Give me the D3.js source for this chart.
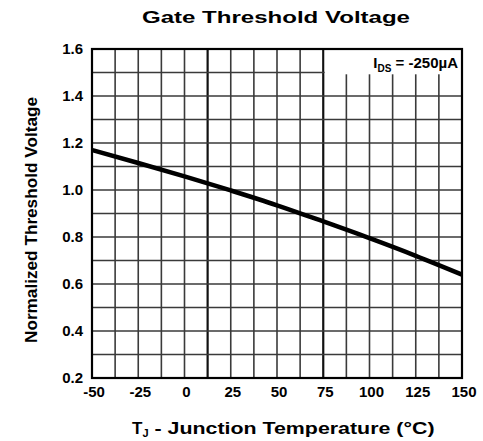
<!DOCTYPE html>
<html>
<head>
<meta charset="utf-8">
<script src="https://cdn.jsdelivr.net/npm/d3@7"></script>
<style>
  html, body { margin: 0; padding: 0; background: #fff; }
  svg { display: block; font-family: "Liberation Sans", Arial, sans-serif; }
</style>
</head>
<body>
<svg id="chart" width="483" height="441"></svg>
<script>
/* Gate Threshold Voltage vs junction temperature (datasheet style grid) */
var TEMPS = [-50, -25, 0, 25, 50, 75, 100, 125, 150];
var VTH = [1.17, 1.115, 1.058, 0.998, 0.935, 0.866, 0.795, 0.72, 0.64];
var X_TICKS = [-50, -25, 0, 25, 50, 75, 100, 125, 150];
var Y_TICKS = [0.2, 0.4, 0.6, 0.8, 1.0, 1.2, 1.4, 1.6];

(function () {
  var svg = d3.select('#chart');
  var L = 92, R = 462, T = 49, B = 378;
  var x = d3.scaleLinear().domain([-50, 150]).range([L, R]);
  var y = d3.scaleLinear().domain([0.2, 1.6]).range([B, T]);

  // grid: every 12.5 degC and every 0.1 V (two heavier verticals)
  var g = svg.append('g');
  d3.range(-50, 150.01, 12.5).forEach(function (t, i) {
    var heavy = i === 5 || i === 10;
    g.append('line').attr('x1', x(t)).attr('x2', x(t)).attr('y1', T).attr('y2', B)
      .attr('stroke', heavy ? '#111' : '#3a3a3a').attr('stroke-width', heavy ? 2.2 : 1.6);
  });
  d3.range(0.2, 1.601, 0.1).forEach(function (v) {
    g.append('line').attr('x1', L).attr('x2', R).attr('y1', y(v)).attr('y2', y(v))
      .attr('stroke', '#3a3a3a').attr('stroke-width', 1.6);
  });

  // condition label box (hides grid in top right cell)
  svg.append('rect').attr('x', x(75) + 1.5).attr('y', T + 1).attr('width', R - x(75) - 2.5).attr('height', y(1.5) - T + 0.8)
    .attr('fill', '#fff');
  var lab = svg.append('text').attr('x', R - 4).attr('y', T + 19).attr('text-anchor', 'end')
    .attr('font-size', 15).attr('font-weight', 700).attr('fill', '#000');
  lab.append('tspan').text('I');
  lab.append('tspan').attr('dy', 4).attr('font-size', 10).text('DS');
  lab.append('tspan').attr('dy', -4).text(' = -250µA');

  // frame
  svg.append('rect').attr('x', L).attr('y', T).attr('width', R - L).attr('height', B - T)
    .attr('fill', 'none').attr('stroke', '#000').attr('stroke-width', 2.2);

  // curve
  var line = d3.line().x(function (d) { return x(d[0]); }).y(function (d) { return y(d[1]); }).curve(d3.curveMonotoneX);
  svg.append('path').datum(TEMPS.map(function (t, i) { return [t, VTH[i]]; }))
    .attr('d', line).attr('fill', 'none').attr('stroke', '#000').attr('stroke-width', 4.5);

  // tick labels
  svg.append('g').selectAll('text').data(X_TICKS).enter().append('text')
    .attr('x', function (d) { return x(d) + 2; }).attr('y', 397).attr('text-anchor', 'middle')
    .attr('font-size', 15).attr('font-weight', 700).text(function (d) { return d; });
  svg.append('g').selectAll('text').data(Y_TICKS).enter().append('text')
    .attr('x', 83).attr('y', function (d) { return y(d) + 5; }).attr('text-anchor', 'end')
    .attr('font-size', 15).attr('font-weight', 700).text(function (d) { return d.toFixed(1); });

  // titles
  svg.append('text').attr('x', 276).attr('y', 23).attr('text-anchor', 'middle')
    .attr('font-size', 17).attr('font-weight', 900).attr('textLength', 268).attr('lengthAdjust', 'spacingAndGlyphs')
    .text('Gate Threshold Voltage');
  var xt = svg.append('text').attr('x', 132).attr('y', 434)
    .attr('font-size', 17).attr('font-weight', 700);
  xt.append('tspan').text('T');
  xt.append('tspan').attr('dy', 3).attr('font-size', 11).text('J');
  xt.append('tspan').attr('dy', -3).attr('textLength', 286).attr('lengthAdjust', 'spacingAndGlyphs')
    .text(' - Junction Temperature (°C)');
  svg.append('text').attr('transform', 'translate(37,220) rotate(-90)').attr('text-anchor', 'middle')
    .attr('font-size', 17).attr('font-weight', 700).attr('textLength', 246).attr('lengthAdjust', 'spacingAndGlyphs')
    .text('Normalized Threshold Voltage');
})();
</script>
</body>
</html>
